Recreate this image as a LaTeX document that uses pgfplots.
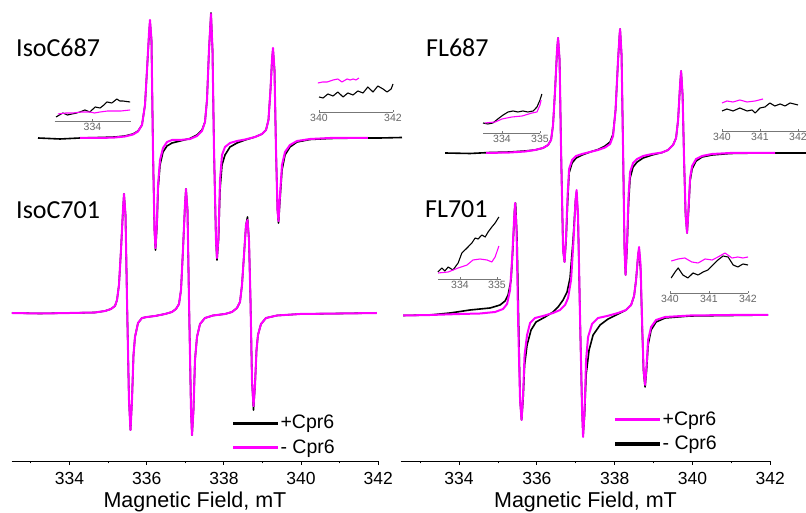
\documentclass[border=0pt]{standalone}
\usepackage{fontspec}
\setmainfont{Liberation Sans}
\newfontfamily\carlito{Carlito}
\usepackage{pgfplots}
\pgfplotsset{compat=1.18}
\definecolor{mag}{HTML}{FF00FF}
\definecolor{insetgray}{HTML}{777777}

\pgfplotsset{
  legend image code/.code={\fill[#1] (0pt,-1.15pt) rectangle (44pt,1.15pt);},
  spec/.style={
    scale only axis, height=461pt,
    xmin=332.5, xmax=342, ymin=0, ymax=461,
    clip=false, anchor=south west,
    axis x line*=bottom, axis y line=none,
    axis line style={line width=0.9pt},
    xtick={334,336,338,340,342},
    minor xtick={333,335,337,339,341},
    tick align=outside,
    major tick length=4pt, minor tick length=2.5pt,
    tick style={black, line width=0.8pt},
    /pgf/number format/assume math mode=true,
    xticklabel style={font=\fontsize{17.5}{21}\selectfont, anchor=base, yshift=-20pt},
    xlabel={Magnetic Field, mT},
    xlabel style={font=\fontsize{21.5}{25}\selectfont, at={(axis description cs:0.5,0)}, anchor=base, yshift=-47pt},
    legend cell align=left,
    legend style={draw=none, fill=none, inner sep=0pt, row sep=9pt, column sep=3pt,
      font=\fontsize{19.5}{23}\selectfont, nodes={inner sep=0pt}},
  },
  blk/.style={black, line width=1.6pt, line join=round},
  mgt/.style={mag, line width=2pt, line join=round},
  inset/.style={
    scale only axis, height=40pt, ymin=0, ymax=40,
    clip=false, anchor=south west,
    axis x line*=bottom, axis y line=none,
    axis line style={insetgray, line width=0.6pt},
    tick style={insetgray, line width=0.6pt},
    tick align=inside, major tick length=2pt,
    /pgf/number format/assume math mode=true,
    xticklabel style={font=\fontsize{10.5}{12}\selectfont, text=insetgray!85!black, anchor=base, yshift=-10pt},
  },
  iblk/.style={black, line width=1.1pt, line join=round},
  imgt/.style={mag, line width=1.1pt, line join=round},
}

\begin{document}
\begin{tikzpicture}
\useasboundingbox (0,0) rectangle (806pt,513pt);

% ---------------- left panel: IsoC687 / IsoC701 ----------------
\begin{axis}[spec, at={(11.6pt,52pt)}, width=366.7pt,
  legend style={at={(axis cs:338.236,26)}, anchor=west}]
\addlegendimage{black}
\addlegendentry{+Cpr6}
\addlegendimage{mag}
\addlegendentry{- Cpr6}
% IsoC701 (+Cpr6)
\addplot[blk, forget plot] coordinates {
(332.510,148) (333.236,147.5) (334.013,148) (334.661,148.5) (334.920,150) (335.075,152)
(335.179,155) (335.231,161) (335.282,176) (335.334,211) (335.386,251) (335.412,267)
(335.451,246) (335.490,161) (335.541,61) (335.580,31) (335.619,61) (335.658,106)
(335.697,124) (335.775,138) (335.878,143) (336.008,144) (336.215,145) (336.474,147)
(336.655,149) (336.759,152) (336.837,157) (336.889,171) (336.940,211) (336.992,256)
(337.018,272) (337.057,251) (337.096,161) (337.148,51) (337.174,26) (337.212,51)
(337.251,101) (337.303,124) (337.381,137) (337.510,143) (337.718,145.5) (338.028,147)
(338.210,149) (338.339,153) (338.417,159) (338.469,176) (338.521,206) (338.573,236)
(338.611,244) (338.650,221) (338.689,161) (338.728,81) (338.767,51) (338.806,76)
(338.845,111) (338.883,126) (338.961,137) (339.091,143) (339.376,145.5) (339.971,147)
(341.008,147.5) (341.966,148)};
% IsoC701 (- Cpr6)
\addplot[mgt, forget plot] coordinates {
(332.510,148) (333.236,147.5) (334.013,148) (334.661,148.5) (334.920,150) (335.075,152)
(335.179,155) (335.231,161) (335.282,176) (335.334,211) (335.386,251) (335.412,267)
(335.451,246) (335.490,161) (335.541,61) (335.580,31) (335.619,61) (335.658,106)
(335.697,124) (335.775,138) (335.878,143) (336.008,144) (336.215,145) (336.474,147)
(336.655,149) (336.759,152) (336.837,157) (336.889,171) (336.940,211) (336.992,256)
(337.018,272) (337.057,251) (337.096,161) (337.148,51) (337.174,26) (337.212,51)
(337.251,101) (337.303,124) (337.381,137) (337.510,143) (337.718,145.5) (338.028,147)
(338.210,149) (338.339,153) (338.417,159) (338.469,176) (338.521,206) (338.573,236)
(338.611,241) (338.650,221) (338.689,161) (338.728,81) (338.767,55) (338.806,76)
(338.845,111) (338.883,126) (338.961,137) (339.091,143) (339.376,145.5) (339.971,147)
(341.008,147.5) (341.966,148)};
% IsoC687 (+Cpr6)
\addplot[blk, forget plot] coordinates {
(333.184,323) (333.754,322) (334.272,323) (334.790,323.5) (335.179,324) (335.438,325)
(335.645,327) (335.775,330) (335.878,336) (335.956,356) (336.008,391) (336.060,426)
(336.085,440) (336.124,421) (336.163,311) (336.202,231) (336.228,211) (336.267,236)
(336.293,271) (336.345,296) (336.422,309) (336.526,315) (336.655,318) (336.863,320)
(337.122,322.5) (337.303,326) (337.433,331) (337.510,339) (337.562,361) (337.614,411)
(337.666,448) (337.705,411) (337.744,311) (337.795,221) (337.821,201) (337.860,221)
(337.899,271) (337.951,296) (338.028,306) (338.158,314) (338.339,318) (338.547,321)
(338.806,324) (338.987,327) (339.091,331) (339.155,341) (339.207,371) (339.246,401)
(339.272,412) (339.311,391) (339.350,311) (339.389,251) (339.415,238) (339.453,261)
(339.505,291) (339.583,306) (339.712,314) (339.894,319) (340.231,321.5) (340.749,322.5)
(341.526,323) (342.044,323) (342.614,323.5)};
% IsoC687 (- Cpr6)
\addplot[mgt, forget plot] coordinates {
(334.272,323) (334.790,323) (335.179,323.5) (335.438,324.5) (335.645,326.5) (335.775,329.5)
(335.878,336) (335.956,356) (336.008,391) (336.060,428) (336.085,441) (336.124,421)
(336.163,311) (336.202,231) (336.228,213) (336.267,240) (336.293,276) (336.345,301)
(336.422,313) (336.526,319) (336.655,321) (336.863,321) (337.122,322) (337.303,325)
(337.433,330) (337.510,339) (337.562,361) (337.614,411) (337.666,447) (337.705,411)
(337.744,311) (337.795,221) (337.821,203) (337.860,225) (337.899,281) (337.951,306)
(338.028,314) (338.158,318) (338.339,320) (338.547,321.5) (338.806,324) (338.987,327)
(339.091,331) (339.155,341) (339.207,371) (339.246,401) (339.272,413) (339.311,391)
(339.350,311) (339.389,251) (339.415,240) (339.453,266) (339.505,296) (339.583,309)
(339.712,316) (339.894,320) (340.231,322) (340.749,323) (341.526,323) (341.733,323)};
\end{axis}

% ---------------- right panel: FL687 / FL701 ----------------
\begin{axis}[spec, at={(400.7pt,52pt)}, width=369.6pt,
  legend style={at={(axis cs:338.010,29.5)}, anchor=west}]
\addlegendimage{mag}
\addlegendentry{+Cpr6}
\addlegendimage{black}
\addlegendentry{- Cpr6}
% FL701 (- Cpr6)
\addplot[blk, forget plot] coordinates {
(332.560,145.5) (333.254,146) (333.769,148) (334.283,151) (334.797,153) (335.054,156)
(335.183,160) (335.260,166) (335.337,181) (335.388,216) (335.427,251) (335.452,258)
(335.491,221) (335.530,141) (335.568,61) (335.607,41) (335.645,61) (335.684,96)
(335.748,116) (335.851,131) (335.979,139) (336.211,144) (336.416,149) (336.545,154)
(336.674,161) (336.776,169) (336.853,183) (336.931,221) (336.995,261) (337.021,269)
(337.059,241) (337.111,141) (337.162,51) (337.188,26) (337.226,46) (337.265,86)
(337.342,111) (337.445,126) (337.625,136) (337.830,142) (338.087,147) (338.293,151)
(338.422,156) (338.499,165) (338.550,181) (338.602,206) (338.627,212) (338.666,191)
(338.704,136) (338.743,89) (338.782,74) (338.820,91) (338.859,116) (338.936,131)
(339.064,139) (339.296,143) (339.938,145) (340.967,145.5) (341.943,146)};
% FL701 (+Cpr6)
\addplot[mgt, forget plot] coordinates {
(332.560,145.5) (333.254,146) (334.026,147) (334.540,147.5) (334.925,149) (335.131,152)
(335.234,157) (335.311,171) (335.362,201) (335.414,241) (335.440,258) (335.478,231)
(335.517,141) (335.568,61) (335.607,41) (335.645,66) (335.684,106) (335.748,126)
(335.825,138) (335.954,143) (336.159,145) (336.416,148) (336.596,151) (336.725,156)
(336.802,163) (336.879,181) (336.943,221) (336.995,261) (337.021,271) (337.059,246)
(337.111,141) (337.162,51) (337.188,24) (337.226,51) (337.265,101) (337.316,124)
(337.419,137) (337.573,143) (337.805,145) (338.087,148) (338.293,151) (338.422,156)
(338.499,165) (338.550,181) (338.602,206) (338.627,214) (338.666,196) (338.704,141)
(338.743,91) (338.782,76) (338.820,96) (338.859,121) (338.936,134) (339.064,141)
(339.296,144) (339.938,145.5) (340.967,146) (341.943,146)};
% FL687 (- Cpr6)
\addplot[blk, forget plot] coordinates {
(333.640,308) (334.283,307.5) (334.797,308.5) (335.311,309) (335.697,310) (335.954,311)
(336.159,313) (336.288,316) (336.365,321) (336.416,336) (336.468,371) (336.519,411)
(336.545,423) (336.584,401) (336.622,311) (336.674,211) (336.712,199) (336.751,221)
(336.789,258) (336.828,288) (336.905,298) (337.008,303) (337.162,306) (337.368,309)
(337.573,311.5) (337.753,315) (337.882,319) (337.959,327) (338.023,351) (338.087,401)
(338.126,426) (338.139,432) (338.177,406) (338.216,311) (338.254,211) (338.280,186)
(338.319,214) (338.357,258) (338.396,283) (338.473,294) (338.576,299) (338.730,303)
(338.961,306) (339.219,308.5) (339.373,311) (339.501,316) (339.578,323) (339.630,341)
(339.681,376) (339.707,390) (339.746,366) (339.784,301) (339.823,246) (339.861,228)
(339.900,251) (339.938,280) (339.990,292) (340.093,300) (340.247,304) (340.504,306)
(340.967,307.5) (341.738,308) (342.509,308) (342.920,308)};
% FL687 (+Cpr6)
\addplot[mgt, forget plot] coordinates {
(334.694,308) (335.311,308.5) (335.697,309.5) (335.954,311) (336.159,313) (336.288,316)
(336.365,321) (336.416,336) (336.468,371) (336.519,411) (336.545,423) (336.584,401)
(336.622,311) (336.674,211) (336.712,199) (336.751,225) (336.789,265) (336.828,292)
(336.905,301) (337.008,305) (337.162,307) (337.368,309) (337.573,311) (337.753,313.5)
(337.882,317) (337.959,325) (338.023,351) (338.087,401) (338.126,426) (338.139,432)
(338.177,406) (338.216,311) (338.254,211) (338.280,186) (338.319,220) (338.357,266)
(338.396,289) (338.473,298) (338.576,302) (338.730,305) (338.961,307) (339.219,308.5)
(339.373,311) (339.501,316) (339.578,323) (339.630,341) (339.681,376) (339.707,390)
(339.746,366) (339.784,301) (339.823,246) (339.861,228) (339.900,254) (339.938,283)
(339.990,295) (340.093,302) (340.247,305) (340.504,307) (340.967,308) (341.738,308)
(342.123,308)};
\end{axis}

% ---------------- insets ----------------
\begin{axis}[inset, at={(54.5pt,392pt)}, width=76pt, xmin=333, xmax=335, xtick={334}]
\addplot[iblk] coordinates {(333.04,4) (333.22,8) (333.34,6) (333.46,7) (333.58,8) (333.67,9)
(333.80,11) (333.93,9) (334.07,14) (334.20,13) (334.30,16) (334.38,19) (334.51,18)
(334.64,22) (334.72,20) (334.80,20) (334.99,19)};
\addplot[imgt] coordinates {(333.09,7) (333.30,8) (333.49,8) (333.70,9) (333.93,9) (334.05,8)
(334.20,9) (334.40,10) (334.54,10) (334.75,10) (334.99,11)};
\end{axis}

\begin{axis}[inset, at={(319pt,401pt)}, width=74pt, xmin=340, xmax=342, xtick={340,342}]
\addplot[iblk] coordinates {(340.00,15) (340.11,14) (340.24,18) (340.38,16) (340.51,20)
(340.65,15) (340.78,19) (340.92,17) (341.05,21) (341.19,19) (341.32,25) (341.46,20)
(341.59,26) (341.73,23) (341.84,20) (341.95,23) (342.00,28)};
\addplot[imgt] coordinates {(339.97,29) (340.10,30) (340.22,30) (340.38,32) (340.51,33)
(340.62,30) (340.76,33) (340.84,32) (340.92,33) (341.00,32) (341.08,34)};
\end{axis}

\begin{axis}[inset, at={(483pt,380pt)}, width=57pt, xmin=333.5, xmax=335, xtick={334,335}]
\addplot[iblk] coordinates {(333.50,10) (333.63,9) (333.76,10) (333.89,14) (334.03,18)
(334.16,21) (334.29,22) (334.42,21) (334.55,22) (334.68,21) (334.82,22) (334.92,26)
(335.00,33) (335.05,39)};
\addplot[imgt] coordinates {(333.55,10) (333.82,11) (334.00,14) (334.26,16) (334.53,17)
(334.79,20) (334.92,21) (335.00,28) (335.03,33)};
\end{axis}

\begin{axis}[inset, at={(437.8pt,234pt)}, width=62.9pt, xmin=333.4, xmax=335.1, xtick={334,335}]
\addplot[iblk] coordinates {(333.40,7) (333.51,11) (333.59,8) (333.68,12) (333.81,9)
(333.95,16) (334.05,26) (334.19,31) (334.32,36) (334.41,41) (334.49,40) (334.59,44)
(334.68,42) (334.76,47) (334.86,52) (334.95,56) (335.05,62)};
\addplot[imgt] coordinates {(333.41,6) (333.68,7) (333.95,11) (334.19,14) (334.35,19)
(334.54,20) (334.73,19) (334.86,17) (334.95,22) (335.05,33)};
\end{axis}

\begin{axis}[inset, at={(722pt,382pt)}, width=83.6pt, xmin=340, xmax=342.2, xtick={340,341,342}]
\addplot[iblk] coordinates {(340.00,20) (340.13,22) (340.29,20) (340.47,23) (340.66,20)
(340.79,21) (340.87,18) (341.00,23) (341.13,24) (341.26,28) (341.39,25) (341.53,27)
(341.66,25) (341.79,28) (342.00,26)};
\addplot[imgt] coordinates {(340.00,28) (340.13,30) (340.29,29) (340.47,31) (340.66,29)
(340.87,30) (341.08,32)};
\end{axis}

\begin{axis}[inset, at={(670pt,220pt)}, width=78pt, xmin=340, xmax=342, xtick={340,341,342}]
\addplot[iblk] coordinates {(340.03,15) (340.13,21) (340.21,25) (340.33,18) (340.46,15)
(340.59,20) (340.72,18) (340.85,21) (340.97,23) (341.10,28) (341.23,33) (341.36,37)
(341.49,36) (341.62,28) (341.74,26) (341.87,29) (342.00,28)};
\addplot[imgt] coordinates {(340.03,32) (340.21,34) (340.38,35) (340.56,31) (340.72,30)
(340.90,34) (341.08,33) (341.23,36) (341.41,40) (341.59,35) (341.74,36) (341.87,35)
(342.00,36)};
\end{axis}

% panel labels
\node[anchor=base west, font=\carlito\fontsize{26}{30}\selectfont, inner sep=0pt] at (16pt,456pt) {IsoC687};
\node[anchor=base west, font=\carlito\fontsize{26}{30}\selectfont, inner sep=0pt] at (16pt,294pt) {IsoC701};
\node[anchor=base west, font=\carlito\fontsize{26}{30}\selectfont, inner sep=0pt] at (426pt,456pt) {FL687};
\node[anchor=base west, font=\carlito\fontsize{26}{30}\selectfont, inner sep=0pt] at (425pt,295pt) {FL701};
\end{tikzpicture}
\end{document}
